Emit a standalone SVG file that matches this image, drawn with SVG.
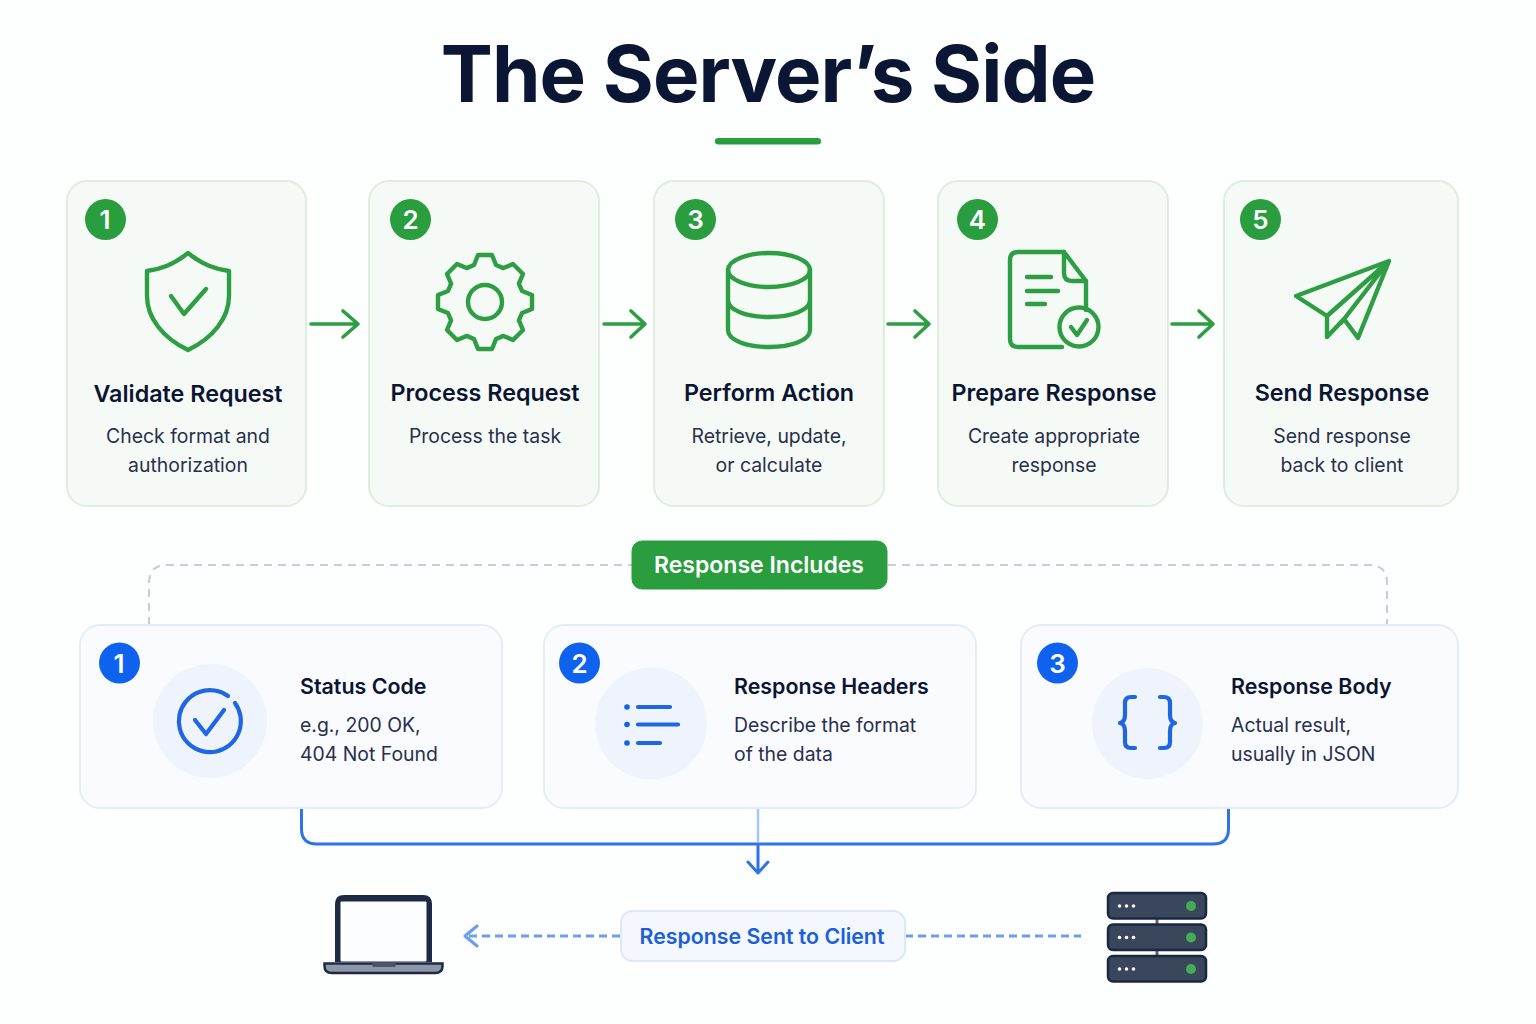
<svg xmlns="http://www.w3.org/2000/svg" width="1536" height="1024" viewBox="0 0 1536 1024">
<style>
text{font-family:Inter,"Liberation Sans",sans-serif}
.t{font-size:23.300px;font-weight:600;fill:#0b1533;text-anchor:middle}
.d{font-size:19.400px;fill:#27304d;text-anchor:middle}
.tl{font-size:21.400px;font-weight:600;fill:#0b1533}
.dl{font-size:19.400px;fill:#27304d}
.n{font-size:26px;font-weight:600;fill:#fff;text-anchor:middle}
.gc{fill:#f6faf6;stroke:#dfecdf;stroke-width:2}
.bc{fill:#fafbfe;stroke:#e4ecfa;stroke-width:2}
.gi{fill:none;stroke:#2e9e44;stroke-width:4.400;stroke-linecap:round;stroke-linejoin:round}
.bi{fill:none;stroke:#1f66e5;stroke-width:4.200;stroke-linecap:round;stroke-linejoin:round}
.g{fill:#2a9d3f}
.b{fill:#0f62ee}
.halo{fill:#eff4fc}
.ga{fill:none;stroke:#2e9e44;stroke-width:3.600;stroke-linecap:round;stroke-linejoin:round}
.rack{fill:#39465c;stroke:#1b2940;stroke-width:2.500}
</style>
<rect width="1536" height="1024" fill="#fdfefe"/>
<g id="title">
<text x="768" y="102" text-anchor="middle" font-size="78" font-weight="700" fill="#0a1633" letter-spacing="-0.9">The Server’s Side</text>
<rect x="715" y="138" width="106" height="6.500" rx="3.200" fill="#2a9d3f"/>
</g>
<g id="connectors">
<g class="ga">
<path d="M311 324H358M343 311L358 324L343 337"/>
<path d="M604 324H645M631 311L645 324L631 337"/>
<path d="M888 324H929M915 311L929 324L915 337"/>
<path d="M1172 324H1213M1199 311L1213 324L1199 337"/>
</g>
<path d="M149 625V583Q149 565 167 565H632M888 565H1369Q1387 565 1387 583V625" fill="none" stroke="#c9ced8" stroke-width="2.200" stroke-dasharray="8 6"/>
<path d="M301.500 809V829Q301.500 844 317 844H1213Q1228.500 844 1228.500 829V809" fill="none" stroke="#2f74e6" stroke-width="3"/>
<path d="M758 809V844" fill="none" stroke="#a9c6f5" stroke-width="2.500"/>
<path d="M758 844V873M748 862L758 873L768 862" fill="none" stroke="#2f74e6" stroke-width="3" stroke-linecap="round" stroke-linejoin="round"/>
<path d="M620 936H467" fill="none" stroke="#6f9fe8" stroke-width="2.800" stroke-dasharray="8 5"/>
<path d="M477 926L465 936L477 946" fill="none" stroke="#6f9fe8" stroke-width="3.200" stroke-linecap="round" stroke-linejoin="round"/>
<path d="M905 936H1081" fill="none" stroke="#6f9fe8" stroke-width="2.800" stroke-dasharray="8 5"/>
</g>
<g id="step1">
<rect class="gc" x="67" y="181" width="239" height="325" rx="20"/>
<circle class="g" cx="105.500" cy="219.500" r="20.500"/>
<text class="n" x="105" y="229">1</text>
<path class="gi" d="M188 253C173 265 161 269 147 271V296C147 318 163 338 188 350C213 338 229 318 229 296V271C215 269 203 265 188 253Z"/>
<path class="gi" d="M171 296L184 314L206 289"/>
<text class="t" x="188" y="402">Validate Request</text>
<text class="d" x="188" y="443">Check format and</text>
<text class="d" x="188" y="472">authorization</text>
</g>
<g id="step2">
<rect class="gc" x="369" y="181" width="230" height="325" rx="20"/>
<circle class="g" cx="410.500" cy="219.500" r="20.500"/>
<text class="n" x="410.500" y="229">2</text>
<polygon class="gi" transform="translate(485 302)" points="-11,-37 -7,-47 7,-47 11,-37 18.400,-33.900 28,-38 38,-28 33.900,-18.400 37,-11 47,-7 47,7 37,11 33.900,18.400 38,28 28,38 18.400,33.900 11,37 7,47 -7,47 -11,37 -18.400,33.900 -28,38 -38,28 -33.900,18.400 -37,11 -47,7 -47,-7 -37,-11 -33.900,-18.400 -38,-28 -28,-38 -18.400,-33.900"/>
<circle class="gi" cx="485" cy="302" r="17"/>
<text class="t" x="485" y="401">Process Request</text>
<text class="d" x="485" y="443">Process the task</text>
</g>
<g id="step3">
<rect class="gc" x="654" y="181" width="230" height="325" rx="20"/>
<circle class="g" cx="695.500" cy="219.500" r="20.500"/>
<text class="n" x="695.500" y="229">3</text>
<ellipse class="gi" cx="769" cy="270" rx="41" ry="17"/>
<path class="gi" d="M728 270V330C728 340 746 347 769 347C792 347 810 340 810 330V270M728 300C728 310 746 317 769 317C792 317 810 310 810 300"/>
<text class="t" x="769" y="401">Perform Action</text>
<text class="d" x="769" y="443">Retrieve, update,</text>
<text class="d" x="769" y="472">or calculate</text>
</g>
<g id="step4">
<rect class="gc" x="938" y="181" width="230" height="325" rx="20"/>
<circle class="g" cx="977.500" cy="219.500" r="20.500"/>
<text class="n" x="977.500" y="229">4</text>
<path class="gi" d="M1062 347H1018Q1010 347 1010 339V260Q1010 252 1018 252H1064L1086 281V310"/>
<path class="gi" d="M1064 252V273Q1064 281 1072 281H1086"/>
<path class="gi" d="M1027 277H1051M1027 291H1058M1027 304H1045"/>
<circle class="gi" cx="1079" cy="327" r="19.500"/>
<path class="gi" d="M1071 327L1077 335L1087 320"/>
<text class="t" x="1054" y="401">Prepare Response</text>
<text class="d" x="1054" y="443">Create appropriate</text>
<text class="d" x="1054" y="472">response</text>
</g>
<g id="step5">
<rect class="gc" x="1224" y="181" width="234" height="325" rx="20"/>
<circle class="g" cx="1260.500" cy="219.500" r="20.500"/>
<text class="n" x="1260.500" y="229">5</text>
<path class="gi" d="M1389 261L1296 296L1327 316V337L1344 319L1358 338ZM1327 316L1389 261L1341 323"/>
<text class="t" x="1342" y="401">Send Response</text>
<text class="d" x="1342" y="443">Send response</text>
<text class="d" x="1342" y="472">back to client</text>
</g>
<g id="response-includes">
<rect x="632" y="541" width="255" height="48" rx="10" fill="#2a9d3f" stroke="#2a9d3f"/>
<text x="759" y="573" text-anchor="middle" font-size="23" font-weight="600" fill="#fff">Response Includes</text>
</g>
<g id="status-code">
<rect class="bc" x="80" y="625" width="422" height="183" rx="20"/>
<circle class="b" cx="119.500" cy="663" r="20.500"/>
<text class="n" x="119" y="672.500">1</text>
<circle class="halo" cx="210" cy="721" r="57"/>
<path class="bi" d="M235 703A31 31 0 1 1 228 696"/>
<path class="bi" d="M195 720L206 734L224 710"/>
<text class="tl" x="300" y="694">Status Code</text>
<text class="dl" x="300" y="732">e.g., 200 OK,</text>
<text class="dl" x="300" y="761">404 Not Found</text>
</g>
<g id="response-headers">
<rect class="bc" x="544" y="625" width="432" height="183" rx="20"/>
<circle class="b" cx="579.500" cy="663" r="20.500"/>
<text class="n" x="579.500" y="672.500">2</text>
<circle class="halo" cx="651" cy="723.500" r="56"/>
<circle class="b" cx="627" cy="707" r="2.800"/><circle class="b" cx="627" cy="724.500" r="2.800"/><circle class="b" cx="627" cy="743" r="2.800"/>
<path class="bi" d="M638 707H670M638 724.500H678M638 743H660"/>
<text class="tl" x="734" y="694">Response Headers</text>
<text class="dl" x="734" y="732">Describe the format</text>
<text class="dl" x="734" y="761">of the data</text>
</g>
<g id="response-body">
<rect class="bc" x="1021" y="625" width="437" height="183" rx="20"/>
<circle class="b" cx="1057.500" cy="663" r="20.500"/>
<text class="n" x="1057.500" y="672.500">3</text>
<circle class="halo" cx="1147.500" cy="723.500" r="55.500"/>
<path class="bi" d="M1135 697H1131Q1125 697 1125 703V715Q1125 722 1120 723Q1125 724 1125 731V742Q1125 748 1131 748H1135"/>
<path class="bi" d="M1160 697H1164Q1170 697 1170 703V715Q1170 722 1175 723Q1170 724 1170 731V742Q1170 748 1164 748H1160"/>
<text class="tl" x="1231" y="694">Response Body</text>
<text class="dl" x="1231" y="732">Actual result,</text>
<text class="dl" x="1231" y="761">usually in JSON</text>
</g>
<g id="client-laptop">
<path d="M335 962V904Q335 895 344 895H423Q432 895 432 904V962Z" fill="#1d2a45"/>
<rect x="340.500" y="901.500" width="86" height="60" rx="1" fill="#fcfdff"/>
<path d="M324.500 963.500H442.500V966Q442.500 973 435 973H332Q324.500 973 324.500 966Z" fill="#8d97a8" stroke="#1d2a45" stroke-width="2.500"/>
<rect x="372" y="962" width="24" height="5" rx="2" fill="#4a5568"/>
</g>
<g id="response-sent">
<rect x="621" y="911" width="284" height="50" rx="12" fill="#f4f8fe" stroke="#dce7fa" stroke-width="2"/>
<text x="762" y="944" text-anchor="middle" font-size="21.300" font-weight="600" fill="#1a5fdc">Response Sent to Client</text>
</g>
<g id="server-rack">
<path d="M1157 918V958" stroke="#5a6474" stroke-width="3"/>
<rect class="rack" x="1108" y="893" width="98" height="25.500" rx="5"/>
<rect class="rack" x="1108" y="924.500" width="98" height="25.500" rx="5"/>
<rect class="rack" x="1108" y="956" width="98" height="25.500" rx="5"/>
<g fill="#fff">
<circle cx="1119.500" cy="906" r="1.800"/><circle cx="1126.500" cy="906" r="1.800"/><circle cx="1133.500" cy="906" r="1.800"/>
<circle cx="1119.500" cy="937.500" r="1.800"/><circle cx="1126.500" cy="937.500" r="1.800"/><circle cx="1133.500" cy="937.500" r="1.800"/>
<circle cx="1119.500" cy="969" r="1.800"/><circle cx="1126.500" cy="969" r="1.800"/><circle cx="1133.500" cy="969" r="1.800"/>
</g>
<g fill="#43ad52">
<circle cx="1191" cy="906" r="5"/><circle cx="1191" cy="937.500" r="5"/><circle cx="1191" cy="969" r="5"/>
</g>
</g>
</svg>
